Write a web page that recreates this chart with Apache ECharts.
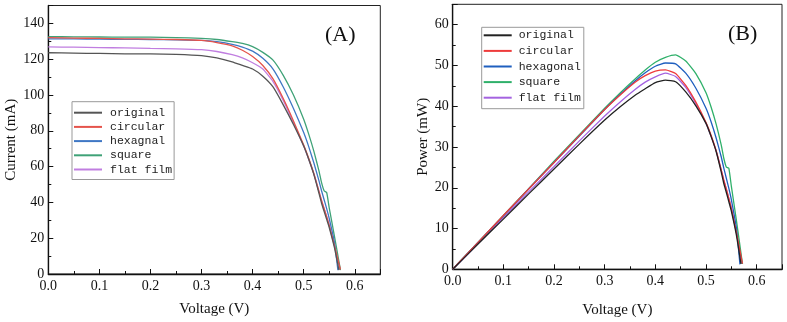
<!DOCTYPE html>
<html><head><meta charset="utf-8">
<script src="https://cdn.jsdelivr.net/npm/echarts@6/dist/echarts.min.js"></script>
<style>
html,body{margin:0;padding:0;background:#fff}
#wrap{position:relative;width:787px;height:322px;overflow:hidden}
#ca{position:absolute;left:0;top:0;width:400px;height:322px}
#cb{position:absolute;left:400px;top:0;width:387px;height:322px}
</style>
</head><body><div id="wrap"><div id="ca"></div><div id="cb"></div></div>
<script>
// ---- data ----
const voltage = [0, 0.05, 0.1, 0.15, 0.2, 0.25, 0.3, 0.33, 0.36, 0.38, 0.4, 0.42, 0.44, 0.46, 0.48, 0.5, 0.51, 0.52, 0.53, 0.535, 0.54, 0.545, 0.55, 0.56];
const namesA = ['original', 'circular', 'hexagnal', 'square', 'flat film'];
const namesB = ['original', 'circular', 'hexagonal', 'square', 'flat film'];

const currentOriginal = [123.6,123.4,123.2,123.0,123.0,122.7,122.0,120.7,118.5,116.5,114.5,110.5,104.5,94.5,83.5,71.5,64.0,55.5,45.0,39.5,35.0,30.5,26.0,15.0];
const currentCircular = [132.0,131.8,131.6,131.4,131.2,131.0,130.5,129.3,127.5,125.0,121.5,116.5,109.0,98.0,85.5,72.0,64.5,56.0,46.0,41.0,36.5,32.0,27.0,16.0];
const currentHexagonal = [131.4,131.3,131.2,131.1,131.0,130.8,130.5,129.8,128.3,126.8,124.5,120.5,114.5,104.5,92.5,79.0,71.0,62.0,52.0,46.5,41.5,36.5,31.0,18.0];
const currentSquare = [132.6,132.5,132.4,132.3,132.3,132.1,131.6,131.0,129.8,128.8,127.0,123.8,119.5,111.0,100.0,86.5,78.0,68.5,57.5,51.0,46.5,45.5,37.0,21.5];
const currentFlat = [126.9,126.7,126.5,126.3,126.0,125.8,125.3,124.3,122.5,120.7,118.0,114.5,107.5,97.0,84.5,71.5,64.0,56.0,46.0,41.0,36.5,32.0,27.5,16.5];

const powerOriginal = [0,6.2,12.3,18.5,24.6,30.7,36.6,39.8,42.7,44.3,45.8,46.4,46.0,43.5,40.1,35.8,32.6,28.9,23.9,21.1,18.9,16.6,14.3,8.4];
const powerCircular = [0,6.6,13.2,19.7,26.2,32.8,39.2,42.7,45.9,47.5,48.6,48.9,48.0,45.1,41.0,36.0,32.9,29.1,24.4,21.9,19.7,17.4,14.9,9.0];
const powerHexagonal = [0,6.6,13.1,19.7,26.2,32.7,39.2,42.8,46.2,48.2,49.8,50.6,50.4,48.1,44.4,39.5,36.2,32.2,27.6,24.9,22.4,19.9,17.1,10.1];
const powerSquare = [0,6.6,13.2,19.8,26.5,33.0,39.5,43.2,46.7,48.9,50.8,52.0,52.6,51.1,48.0,43.3,39.8,35.6,30.5,27.3,25.1,24.8,20.4,12.0];
const powerFlat = [0,6.3,12.7,19.0,25.2,31.5,37.6,41.0,44.1,45.9,47.2,48.1,47.3,44.6,40.6,35.8,32.6,29.1,24.4,21.9,19.7,17.4,15.1,9.2];

const endVoltage = [0.569, 0.572, 0.567, 0.572, 0.571];
const endCurrent = [2.2, 2.5, 2.2, 2.2, 2.5];
const endPower = [1.3, 1.4, 1.2, 1.3, 1.4];

const colorsA = ['#555555', '#e5534b', '#3f77c4', '#3fa277', '#c07ee0'];
const colorsB = ['#222222', '#ee3b3b', '#1f5fbf', '#2fb06a', '#a463e0'];

const currents = [currentOriginal, currentCircular, currentHexagonal, currentSquare, currentFlat];
const powers = [powerOriginal, powerCircular, powerHexagonal, powerSquare, powerFlat];

// ---- helpers ----
function pairs(vals, i, ends) {
  const d = voltage.map((v, k) => [v, vals[k]]);
  d.push([endVoltage[i], ends[i]]);
  return d;
}
const serif = '"Liberation Serif", "Times New Roman", serif';
const mono = '"Liberation Mono", "Courier New", monospace';

function axisCommon() {
  return {
    axisLine: { show: true, onZero: false, lineStyle: { color: '#111', width: 1.3 } },
    axisTick: { show: true, inside: true, length: 5, lineStyle: { color: '#111', width: 1 } },
    minorTick: { show: true, splitNumber: 2, length: 3, lineStyle: { color: '#111', width: 1 } },
    splitLine: { show: false },
    axisLabel: { color: '#111', fontFamily: serif, fontSize: 14, margin: 5, showMaxLabel: false }
  };
}

function makeOption(cfg) {
  const xa = Object.assign(axisCommon(), {
    type: 'value', min: 0, max: 0.65, interval: 0.1,
    name: 'Voltage (V)', nameLocation: 'middle', nameGap: cfg.xnameGap, nameMoveOverlap: false,
    nameTextStyle: { fontFamily: serif, fontSize: 15, color: '#111' }
  });
  xa.axisLabel.formatter = v => v.toFixed(1);
  const ya = Object.assign(axisCommon(), {
    type: 'value', min: 0, max: cfg.ymax, interval: cfg.yint,
    name: cfg.yname, nameLocation: 'middle', nameGap: cfg.ynameGap, nameRotate: 90, nameMoveOverlap: false,
    nameTextStyle: { fontFamily: serif, fontSize: 15, color: '#111' }
  });
  ya.axisLabel.formatter = v => String(Math.round(v));
  ya.axisLabel.margin = 4;
  return {
    animation: false,
    backgroundColor: '#fff',
    grid: Object.assign({ show: true, borderColor: '#222', borderWidth: 1, backgroundColor: 'transparent',
      containLabel: false, outerBoundsMode: 'none' }, cfg.grid),
    xAxis: xa,
    yAxis: ya,
    legend: {
      orient: 'vertical', left: cfg.legend.left, top: cfg.legend.top,
      data: cfg.names,
      borderColor: '#999', borderWidth: 1, borderRadius: 0,
      padding: cfg.legend.padding,
      itemWidth: 28, itemHeight: 12, itemGap: cfg.legend.gap,
      icon: 'path://M0,5 L28,5 L28,7 L0,7 Z',
      textStyle: { fontFamily: mono, fontSize: 11.5, color: '#222', lineHeight: 12, padding: [0, 0, 0, cfg.legend.textPad] }
    },
    graphic: [{
      type: 'text', left: cfg.tagX, top: cfg.tagY,
      style: { text: cfg.tag, font: '22px ' + serif, fill: '#111' }
    }],
    series: cfg.names.map((n, i) => ({
      name: n, type: 'line', symbol: 'none', smooth: 0.15,
      data: pairs(cfg.values[i], i, cfg.ends),
      itemStyle: { color: cfg.colors[i] },
      lineStyle: { color: cfg.colors[i], width: 1.3 },
      z: i === 0 ? 6 : 5 - i + 1
    }))
  };
}

const chartA = echarts.init(document.getElementById('ca'), null, { renderer: 'canvas' });
chartA.setOption(makeOption({
  names: namesA, colors: colorsA, values: currents, ends: endCurrent,
  ymax: 150, yint: 20, yname: 'Current (mA)', ynameGap: 30, xnameGap: 28,
  grid: { left: 48.3, right: 19.7, top: 5.5, bottom: 48 },
  legend: { left: 72, top: 101.7, padding: [5, 2, 4, 2], gap: 2.2, textPad: 3 },
  tag: '(A)', tagX: 325, tagY: 24
}));

const chartB = echarts.init(document.getElementById('cb'), null, { renderer: 'canvas' });
chartB.setOption(makeOption({
  names: namesB, colors: colorsB, values: powers, ends: endPower,
  ymax: 65, yint: 10, yname: 'Power (mW)', ynameGap: 22, xnameGap: 33,
  grid: { left: 52.7, right: 5, top: 4.3, bottom: 52.7 },
  legend: { left: 81.7, top: 27.3, padding: [2, 3, 5, 2], gap: 3.6, textPad: 2 },
  tag: '(B)', tagX: 328, tagY: 23
}));
</script>
</body></html>
